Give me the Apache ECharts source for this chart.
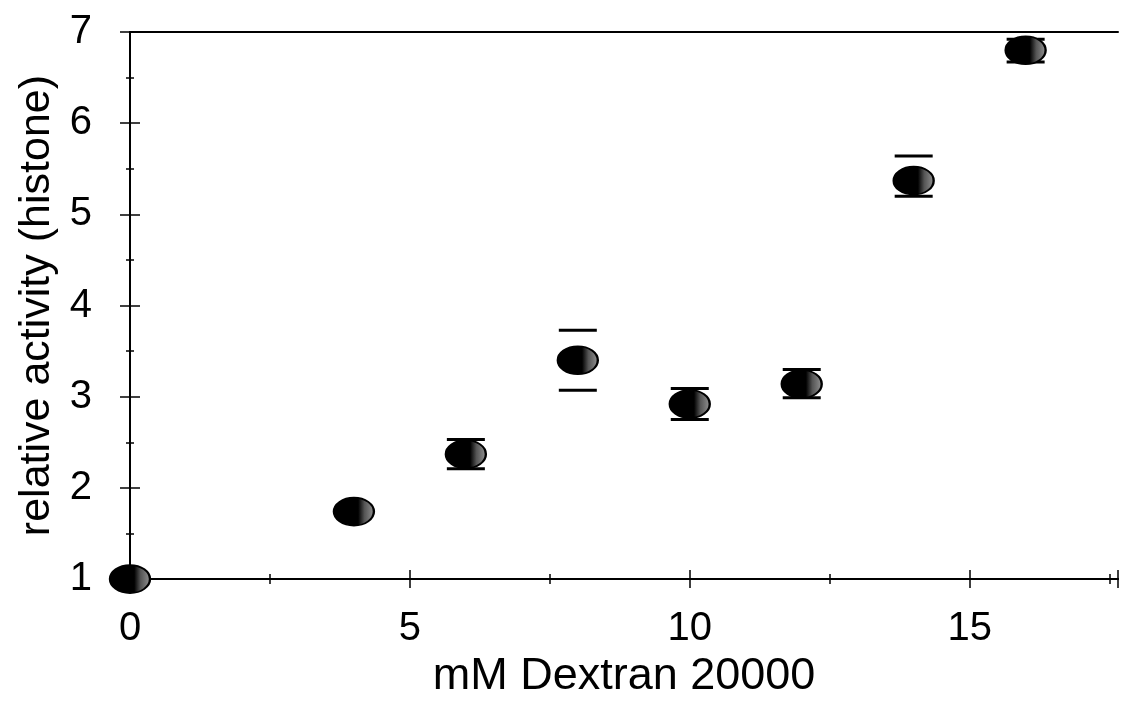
<!DOCTYPE html>
<html>
<head>
<meta charset="utf-8">
<script src="https://cdn.jsdelivr.net/npm/echarts@6/dist/echarts.min.js"></script>
<style>html,body{margin:0;padding:0;background:#fff}#c{width:1121px;height:704px}</style>
</head>
<body>
<div id="c"></div>
<script>
const dextran = [0, 4, 6, 8, 10, 12, 14, 16];
const activity = [1.0, 1.74, 2.37, 3.40, 2.92, 3.14, 5.37, 6.80];
const errLow = [1.0, 1.74, 2.21, 3.07, 2.75, 2.99, 5.20, 6.67];
const errHigh = [1.0, 1.74, 2.53, 3.73, 3.09, 3.30, 5.64, 6.92];
const xTicks = [0, 5, 10, 15];
const yTicks = [1, 2, 3, 4, 5, 6, 7];

const FONT = '"Liberation Sans", Arial, sans-serif';
const points = dextran.map((x, i) => [x, activity[i]]);
const bars = dextran.map((x, i) => [x, errLow[i], errHigh[i]]).filter(d => d[2] > d[1]);

const chart = echarts.init(document.getElementById('c'));
const baseY = {
  type: 'value', min: 1, max: 7, interval: 1, position: 'left',
  axisLine: { show: true, onZero: false, lineStyle: { color: '#000', width: 2 } },
  splitLine: { show: false },
  minorTick: { show: true, splitNumber: 2, length: 4, lineStyle: { color: '#000', width: 1.5 } }
};
const baseX = {
  type: 'value', min: 0, max: 17.65, interval: 5, position: 'bottom',
  axisLine: { show: true, onZero: false, lineStyle: { color: '#000', width: 2 } },
  splitLine: { show: false },
  minorTick: { show: true, splitNumber: 2, length: 5, lineStyle: { color: '#000', width: 1.5 } }
};
chart.setOption({
  animation: false,
  backgroundColor: '#fff',
  grid: { left: 130, right: 3, top: 32, bottom: 119, containLabel: false },
  xAxis: [
    Object.assign({}, baseX, {
      name: 'mM Dextran 20000', nameLocation: 'middle', nameGap: 68,
      nameTextStyle: { color: '#000', fontSize: 45, fontFamily: FONT },
      axisTick: { show: true, length: 9, lineStyle: { color: '#000', width: 1.5 } },
      axisLabel: { color: '#000', fontSize: 40, fontFamily: FONT, margin: 30,
        formatter: v => xTicks.includes(v) ? String(v) : '' }
    }),
    Object.assign({}, baseX, {
      axisTick: { show: true, inside: true, length: 9, lineStyle: { color: '#000', width: 1.5 } },
      axisLabel: { show: false }
    }),
    { type: 'value', min: 0, max: 17.65, position: 'top',
      axisLine: { show: true, onZero: false, lineStyle: { color: '#000', width: 2 } },
      axisTick: { show: false }, axisLabel: { show: false }, splitLine: { show: false } }
  ],
  yAxis: [
    Object.assign({}, baseY, {
      name: 'relative activity (histone)', nameLocation: 'middle', nameGap: 64, nameRotate: 90,
      nameTextStyle: { color: '#000', fontSize: 43, fontFamily: FONT },
      axisTick: { show: true, length: 10, lineStyle: { color: '#000', width: 1.5 } },
      axisLabel: { color: '#000', fontSize: 40, fontFamily: FONT, margin: 38,
        formatter: v => yTicks.includes(v) ? String(v) : '' }
    }),
    Object.assign({}, baseY, {
      axisTick: { show: true, inside: true, length: 10, lineStyle: { color: '#000', width: 1.5 } },
      axisLabel: { show: false }
    })
  ],
  series: [
    {
      type: 'custom', xAxisIndex: 0, yAxisIndex: 0, z: 2,
      data: bars,
      renderItem: (params, api) => {
        const x = api.value(0);
        const lo = api.coord([x, api.value(1)]);
        const hi = api.coord([x, api.value(2)]);
        const hw = 19;
        const st = { stroke: '#000', lineWidth: 3 };
        return { type: 'group', children: [
          { type: 'line', shape: { x1: lo[0] - hw, y1: lo[1], x2: lo[0] + hw, y2: lo[1] }, style: st },
          { type: 'line', shape: { x1: hi[0] - hw, y1: hi[1], x2: hi[0] + hw, y2: hi[1] }, style: st }
        ] };
      }
    },
    {
      type: 'scatter', xAxisIndex: 0, yAxisIndex: 0, z: 5,
      data: points,
      symbol: 'circle', symbolSize: [40, 28],
      itemStyle: {
        color: { type: 'linear', x: 0, y: 0, x2: 1, y2: 0, colorStops: [
          { offset: 0, color: '#000' }, { offset: 0.6, color: '#000' },
          { offset: 0.75, color: '#555' }, { offset: 1, color: '#999' } ] },
        borderColor: '#000', borderWidth: 2, opacity: 1
      }
    }
  ]
});
</script>
</body>
</html>
